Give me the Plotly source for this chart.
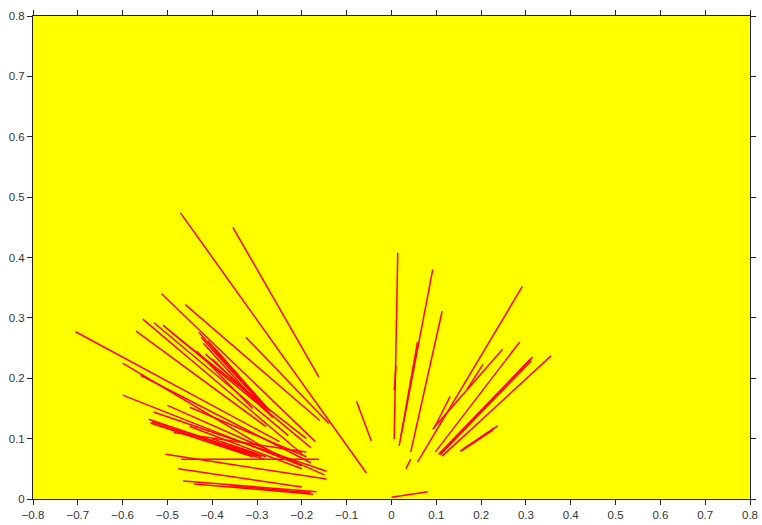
import plotly.graph_objects as go

# Track segments: start (x0, y0) -> end (x1, y1)
x0 = [-0.471, -0.354, -0.705, -0.513, -0.460, -0.555, -0.530, -0.510, -0.570, -0.490,
      -0.430, -0.425, -0.420, -0.435, -0.415, -0.400, -0.410, -0.395, -0.325, -0.600,
      -0.560, -0.600, -0.542, -0.535, -0.538, -0.531, -0.500, -0.450, -0.400, -0.380,
      -0.395, -0.504, -0.469, -0.476, -0.465, -0.440, -0.360, -0.486, -0.078, -0.450,
      0.014, 0.006, 0.092, 0.113, 0.058, 0.292, 0.286, 0.315, 0.310, 0.312, 0.356,
      0.248, 0.204, 0.131, 0.237, 0.230, 0.226, 0.032, 0.000]
y0 = [0.474, 0.450, 0.277, 0.340, 0.322, 0.298, 0.292, 0.288, 0.278, 0.275,
      0.276, 0.268, 0.258, 0.245, 0.240, 0.232, 0.262, 0.250, 0.268, 0.225,
      0.205, 0.172, 0.132, 0.128, 0.126, 0.144, 0.155, 0.120, 0.100, 0.095,
      0.092, 0.074, 0.066, 0.050, 0.030, 0.025, 0.022, 0.110, 0.162, 0.152,
      0.408, 0.180, 0.380, 0.311, 0.260, 0.352, 0.260, 0.235, 0.232, 0.229, 0.237,
      0.248, 0.223, 0.170, 0.121, 0.118, 0.114, 0.050, 0.003]
x1 = [-0.056, -0.162, -0.250, -0.170, -0.160, -0.200, -0.230, -0.180, -0.280, -0.190,
      -0.290, -0.275, -0.300, -0.310, -0.280, -0.265, -0.285, -0.270, -0.140, -0.250,
      -0.180, -0.200, -0.300, -0.320, -0.310, -0.145, -0.150, -0.200, -0.290, -0.280,
      -0.285, -0.145, -0.162, -0.200, -0.167, -0.175, -0.180, -0.190, -0.045, -0.190,
      0.006, 0.010, 0.017, 0.043, 0.021, 0.058, 0.098, 0.105, 0.110, 0.108, 0.113,
      0.092, 0.169, 0.094, 0.153, 0.160, 0.157, 0.043, 0.081]
y1 = [0.043, 0.202, 0.095, 0.095, 0.130, 0.075, 0.105, 0.085, 0.120, 0.100,
      0.160, 0.145, 0.160, 0.150, 0.150, 0.135, 0.155, 0.145, 0.125, 0.070,
      0.060, 0.055, 0.072, 0.075, 0.070, 0.046, 0.040, 0.050, 0.070, 0.070,
      0.066, 0.033, 0.066, 0.020, 0.012, 0.008, 0.010, 0.078, 0.096, 0.070,
      0.099, 0.220, 0.088, 0.078, 0.104, 0.061, 0.078, 0.074, 0.076, 0.073, 0.071,
      0.116, 0.182, 0.116, 0.079, 0.083, 0.080, 0.066, 0.012]

xs, ys = [], []
for a, b, c, d in zip(x0, y0, x1, y1):
    xs += [a, c, None]
    ys += [b, d, None]

fig = go.Figure(go.Scatter(x=xs, y=ys, mode="lines",
                           line=dict(color="#ff0000", width=1.5),
                           hoverinfo="skip", showlegend=False))

axis_common = dict(showgrid=False, zeroline=False, showline=True, linecolor="#222222",
                   linewidth=1, mirror="ticks", ticks="outside", ticklen=5,
                   tickcolor="#222222", tickfont=dict(family="Liberation Sans", size=11.5,
                                                      color="#333333"))
fig.update_xaxes(range=[-0.8, 0.8], tickvals=[i / 10 for i in range(-8, 9)],
                 ticktext=["\u22120.8", "\u22120.7", "\u22120.6", "\u22120.5", "\u22120.4",
                           "\u22120.3", "\u22120.2", "\u22120.1", "0", "0.1", "0.2", "0.3",
                           "0.4", "0.5", "0.6", "0.7", "0.8"], **axis_common)
fig.update_yaxes(range=[0, 0.8], tickvals=[i / 10 for i in range(0, 9)],
                 ticktext=["0", "0.1", "0.2", "0.3", "0.4", "0.5", "0.6", "0.7", "0.8"],
                 **axis_common)
fig.update_layout(width=762, height=525, margin=dict(l=33, r=4, t=16, b=25),
                  plot_bgcolor="#ffff00", paper_bgcolor="#ffffff")
fig.write_html("out.html")
